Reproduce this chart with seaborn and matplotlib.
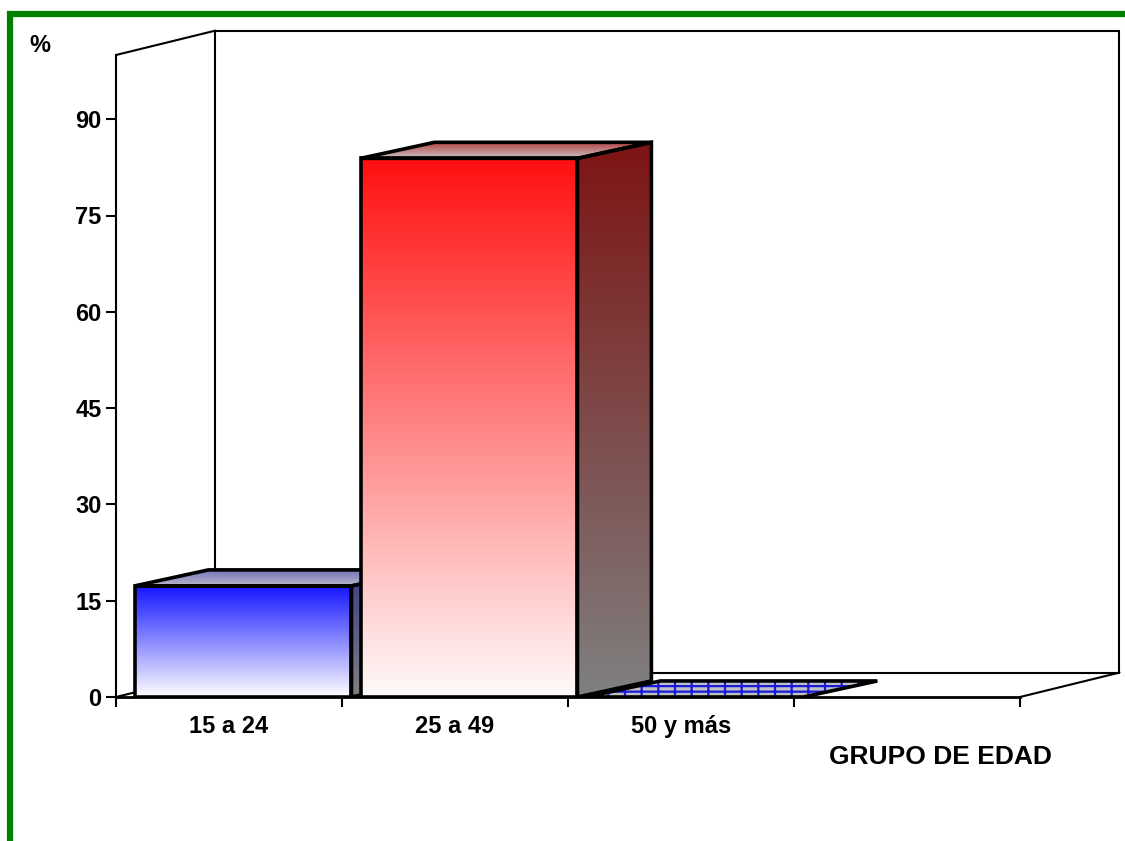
import numpy as np
import pandas as pd
import seaborn as sns
import matplotlib.pyplot as plt
from matplotlib.patches import Polygon, Rectangle
from matplotlib.colors import LinearSegmentedColormap

grupos = ['15 a 24', '25 a 49', '50 y más']
porcentaje = [17.3, 83.9, 0.0]
y_ticks = [0, 15, 30, 45, 60, 75, 90]

# colours per bar: front top/bottom, side top/bottom, top-face back/front
front_top = ['#1414ff', '#ff1010', '#c0c0c0']
front_bot = ['#ffffff', '#fffafa', '#c0c0c0']
side_top = ['#3c3c8c', '#7d1414', '#808080']
side_bot = ['#808080', '#808080', '#808080']
cap_back = ['#7070b8', '#b43c3c', '#c0c0c0']
cap_front = ['#b8b8cc', '#c8c0c0', '#c0c0c0']

sns.set_theme(style='white')
plt.rcParams['font.family'] = ['Liberation Sans', 'DejaVu Sans']
plt.rcParams['font.weight'] = 'bold'
plt.rcParams['text.color'] = 'black'
plt.rcParams['xtick.color'] = 'black'
plt.rcParams['ytick.color'] = 'black'
plt.rcParams['hatch.linewidth'] = 1.6

fig = plt.figure(figsize=(11.25, 8.41), dpi=100)
ax = fig.add_axes([116/1125, 144/841, 904/1125, 642/841])

df = pd.DataFrame({'grupo': grupos, 'pct': porcentaje})
sns.barplot(data=df, x='grupo', y='pct', width=0.96, color='white', ax=ax)

xl, xr = -0.562, 3.438
D, DY = 0.44, 3.8      # depth of the walls
d, dy = 0.327, 2.5     # depth of the bars


def gradient(verts, c_top, c_bot, z, patch=None):
    if patch is None:
        patch = Polygon(verts, closed=True, facecolor='none', edgecolor='black',
                        lw=2.6, joinstyle='miter', zorder=z + 0.1)
        ax.add_patch(patch)
    xs, ys = zip(*verts)
    if max(ys) - min(ys) <= 0:
        return patch
    cmap = LinearSegmentedColormap.from_list('g', [c_bot, c_top])
    img = ax.imshow(np.linspace(0, 1, 256).reshape(-1, 1), cmap=cmap, origin='lower',
                    extent=[min(xs), max(xs), min(ys), max(ys)], aspect='auto',
                    interpolation='bicubic', zorder=z)
    img.set_clip_path(patch)
    return patch


bars = list(ax.patches)
order = np.argsort([b.get_height() for b in bars])
for rank, i in enumerate(order):
    p = bars[i]
    z = 3 + rank * 2
    x0, w, h = p.get_x(), p.get_width(), p.get_height()
    x1 = x0 + w
    if h > 0:
        p.set_facecolor('none')
        p.set_edgecolor('black')
        p.set_linewidth(2.6)
        p.set_zorder(z + 0.1)
        gradient([(x0, 0), (x1, 0), (x1, h), (x0, h)], front_top[i], front_bot[i], z, patch=p)
        gradient([(x1, 0), (x1 + d, dy), (x1 + d, h + dy), (x1, h)], side_top[i], side_bot[i], z)
        gradient([(x0, h), (x1, h), (x1 + d, h + dy), (x0 + d, h + dy)], cap_back[i], cap_front[i], z)
    else:
        p.set_visible(False)
        cap = [(x0, h), (x1, h), (x1 + d, h + dy), (x0 + d, h + dy)]
        ax.add_patch(Polygon(cap, closed=True, facecolor=cap_front[i], edgecolor='#1a1add',
                             hatch='+--', lw=0, zorder=z))
        ax.add_patch(Polygon(cap, closed=True, facecolor='none', edgecolor='black',
                             lw=2.6, joinstyle='miter', zorder=z + 0.1))

# back walls and floor
wall = [
    [(xl, 100), (xl + D, 100 + DY)],
    [(xl, 0), (xl + D, DY)],
    [(xl + D, DY), (xl + D, 100 + DY)],
    [(xl + D, 100 + DY), (xr + D, 100 + DY)],
    [(xr + D, 100 + DY), (xr + D, DY)],
    [(xl + D, DY), (xr + D, DY)],
    [(xr, 0), (xr + D, DY)],
]
for seg in wall:
    (ax_, ay_), (bx_, by_) = seg
    ax.plot([ax_, bx_], [ay_, by_], color='black', lw=1.5, zorder=1, clip_on=False)

ax.set_xlim(xl, xr)
ax.set_ylim(0, 100)
for s in ['top', 'right']:
    ax.spines[s].set_visible(False)
ax.spines['left'].set_color('black')
ax.spines['left'].set_linewidth(1.5)
ax.spines['bottom'].set_color('black')
ax.spines['bottom'].set_linewidth(2)
ax.spines['bottom'].set_zorder(20)

ax.set_yticks(y_ticks)
ax.set_yticklabels([str(t) for t in y_ticks])
ax.set_xticks(np.arange(5) + xl, labels=[''] * 5)
ax.set_xticks(np.arange(len(grupos)) + xl + 0.5, labels=grupos, minor=True)
ax.tick_params(axis='y', left=True, length=7, width=1.5, pad=3.5, labelsize=17,
               color='black', labelcolor='black')
ax.tick_params(axis='x', which='major', bottom=True, length=7, width=1.5, color='black')
ax.tick_params(axis='x', which='minor', bottom=True, length=0, pad=13, labelsize=17,
               labelcolor='black')
for lab in ax.get_xticklabels(minor=True) + ax.get_yticklabels():
    lab.set_fontweight('bold')
ax.set_xlabel('')
ax.set_ylabel('')

fig.text(940/1125, 1 - 757/841, 'GRUPO DE EDAD', ha='center', va='center',
         fontsize=19, fontweight='bold', color='black')
fig.text(40/1125, 1 - 46/841, '%', ha='center', va='center', fontsize=17,
         fontweight='bold', color='black')

fig.patches.append(Rectangle((10/1125, -0.2), 1.3, 1.2 - 14/841, transform=fig.transFigure,
                             fill=False, edgecolor='#008000', lw=4.5))

fig.savefig('out.png', dpi=100)
